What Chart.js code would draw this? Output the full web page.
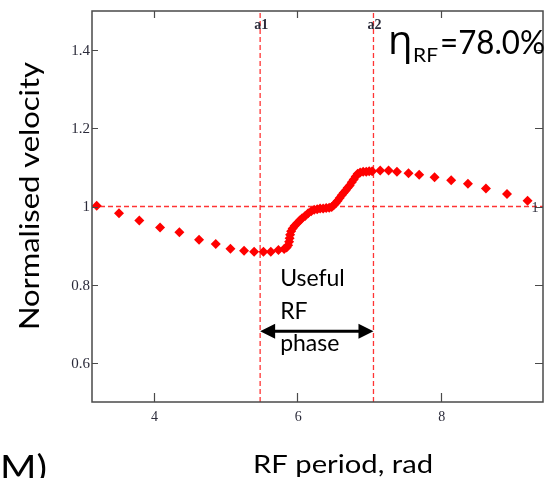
<!DOCTYPE html>
<html>
<head>
<meta charset="utf-8">
<title>Normalised velocity vs RF period</title>
<script src="https://cdn.jsdelivr.net/npm/chart.js@4"></script>
<style>
    body { margin: 0; background: #fff; }
    #chart { display: block; }
</style>
</head>
<body>
<canvas id="chart" width="550" height="478"></canvas>
<script>
// values
const phaseRad = [
    3.207, 3.518, 3.801, 4.090, 4.359, 4.633, 4.866, 5.070, 5.260, 5.400, 5.530, 5.633, 5.739,
    5.818, 5.853, 5.874, 5.888, 5.895, 5.902, 5.916, 5.937, 5.965, 6.000,
    6.035, 6.069, 6.111, 6.153, 6.195, 6.237, 6.279, 6.320, 6.362, 6.404,
    6.446, 6.481, 6.508, 6.536, 6.564, 6.592, 6.620, 6.648, 6.676, 6.704,
    6.732, 6.760, 6.787, 6.815, 6.843, 6.878, 6.920, 6.962, 7.003, 7.045,
    7.157, 7.273, 7.390, 7.551, 7.700, 7.914, 8.146, 8.379, 8.630, 8.923, 9.210
];
const normVelocity = [
    1.002, 0.983, 0.964, 0.946, 0.934, 0.915, 0.904, 0.892, 0.887, 0.884, 0.884, 0.884, 0.889,
    0.891, 0.895, 0.901, 0.910, 0.919, 0.928, 0.937, 0.944, 0.951, 0.957,
    0.964, 0.970, 0.976, 0.983, 0.988, 0.992, 0.993, 0.995, 0.995, 0.996,
    0.997, 0.999, 1.003, 1.008, 1.015, 1.022, 1.029, 1.035, 1.041, 1.048,
    1.054, 1.062, 1.069, 1.077, 1.084, 1.087, 1.089, 1.089, 1.090, 1.090,
    1.092, 1.092, 1.089, 1.085, 1.081, 1.075, 1.067, 1.058, 1.046, 1.032, 1.015
];
const xTicks = [4, 6, 8];
const yTicks = [0.6, 0.8, 1, 1.2, 1.4];
const yTickLabels = ['0.6', '0.8', '1', '1.2', '1.4'];
const xRange = [Math.PI, 3 * Math.PI];
const yRange = [0.5, 1.5];
const refLevel = 1;
const markerA1 = 5.484;
const markerA2 = 7.063;
const arrowLevel = 0.681;

const red = '#ff0000';
const dashRed = 'rgba(255,30,30,0.9)';

function fitText(ctx, text, x, y, width, font) {
    ctx.font = font;
    const w = ctx.measureText(text).width;
    ctx.save();
    ctx.translate(x, y);
    ctx.scale(width / w, 1);
    ctx.textAlign = 'left';
    ctx.fillText(text, 0, 0);
    ctx.restore();
}

const decorations = {
    id: 'decorations',
    afterDraw(chart) {
        const ctx = chart.ctx;
        const xs = chart.scales.x, ys = chart.scales.y;
        const { left, right, top, bottom } = chart.chartArea;

        ctx.save();
        // frame
        ctx.strokeStyle = '#4a4a4a';
        ctx.lineWidth = 1.5;
        ctx.strokeRect(left, top, right - left, bottom - top);

        // inward tick marks on all four sides
        ctx.lineWidth = 1.2;
        ctx.beginPath();
        xTicks.forEach(v => {
            const px = Math.round(xs.getPixelForValue(v)) + 0.5;
            ctx.moveTo(px, bottom); ctx.lineTo(px, bottom - 9);
            ctx.moveTo(px, top); ctx.lineTo(px, top + 7);
        });
        yTicks.forEach(v => {
            const py = Math.round(ys.getPixelForValue(v)) + 0.5;
            ctx.moveTo(left, py); ctx.lineTo(left + 6, py);
            ctx.moveTo(right, py); ctx.lineTo(right - 8, py);
        });
        ctx.stroke();

        // tick labels
        ctx.fillStyle = '#2b2b3a';
        ctx.font = '15px "Liberation Serif"';
        ctx.textAlign = 'right';
        ctx.textBaseline = 'middle';
        yTicks.forEach((v, i) => {
            ctx.fillText(yTickLabels[i], left - 2, ys.getPixelForValue(v) + 1);
        });
        ctx.textAlign = 'center';
        ctx.font = '14px "Liberation Serif"';
        xTicks.forEach(v => {
            ctx.fillText(String(v), xs.getPixelForValue(v) + 1, bottom + 15);
        });

        // marker names and right-hand level label
        ctx.font = 'bold 14px "Liberation Serif"';
        ctx.textBaseline = 'alphabetic';
        ctx.fillText('a1', xs.getPixelForValue(markerA1) + 1, top + 18);
        ctx.fillText('a2', xs.getPixelForValue(markerA2) + 1, top + 18);
        ctx.font = '14px "Liberation Serif"';
        ctx.textBaseline = 'middle';
        ctx.fillText('1', right - 8, ys.getPixelForValue(refLevel) + 2);

        // double headed arrow between a1 and a2
        const ax1 = xs.getPixelForValue(markerA1);
        const ax2 = xs.getPixelForValue(markerA2);
        const ay = ys.getPixelForValue(arrowLevel);
        ctx.strokeStyle = '#000';
        ctx.fillStyle = '#000';
        ctx.lineWidth = 3;
        ctx.beginPath();
        ctx.moveTo(ax1 + 10, ay); ctx.lineTo(ax2 - 10, ay);
        ctx.stroke();
        ctx.beginPath();
        ctx.moveTo(ax1, ay); ctx.lineTo(ax1 + 15, ay - 7.5); ctx.lineTo(ax1 + 15, ay + 7.5); ctx.closePath();
        ctx.moveTo(ax2, ay); ctx.lineTo(ax2 - 15, ay - 7.5); ctx.lineTo(ax2 - 15, ay + 7.5); ctx.closePath();
        ctx.fill();

        // annotation text
        ctx.fillStyle = '#000';
        ctx.textAlign = 'left';
        ctx.textBaseline = 'alphabetic';
        ctx.font = '23px Lato';
        ctx.fillText('Useful', ax1 + 20, 286);
        ctx.fillText('RF', ax1 + 20, 319);
        ctx.fillText('phase', ax1 + 20, 351);

        // efficiency label
        ctx.font = '40px "Open Sans"';
        ctx.fillText('\u03b7', 388, 54);
        fitText(ctx, 'RF', 413, 62, 25, '19px Lato');
        fitText(ctx, '=78.0%', 440, 54, 105, '33px Lato');

        // axis titles
        fitText(ctx, 'RF period, rad', 253, 473, 180, '25px Lato');
        fitText(ctx, 'M)', 0, 480, 47, '34px Lato');
        ctx.save();
        ctx.translate(39, 330);
        ctx.rotate(-Math.PI / 2);
        fitText(ctx, 'Normalised velocity', 0, 0, 268, '27px Lato');
        ctx.restore();

        ctx.restore();
    }
};

const dashStyle = {
    showLine: true,
    pointRadius: 0,
    borderColor: dashRed,
    borderWidth: 1.3,
    borderDash: [5, 3]
};

new Chart(document.getElementById('chart'), {
    type: 'scatter',
    data: {
        datasets: [
            {
                label: 'velocity',
                data: phaseRad.map((x, i) => ({ x: x, y: normVelocity[i] })),
                pointStyle: 'rectRot',
                pointRadius: 5,
                backgroundColor: red,
                borderColor: red,
                borderWidth: 0
            },
            Object.assign({ data: [{ x: xRange[0], y: refLevel }, { x: xRange[1], y: refLevel }] }, dashStyle),
            Object.assign({ data: [{ x: markerA1, y: yRange[0] }, { x: markerA1, y: yRange[1] }] }, dashStyle),
            Object.assign({ data: [{ x: markerA2, y: yRange[0] }, { x: markerA2, y: yRange[1] }] }, dashStyle)
        ]
    },
    options: {
        responsive: false,
        animation: false,
        layout: { padding: { top: 11, right: 7, left: 0, bottom: 0 }, autoPadding: false },
        plugins: {
            legend: { display: false },
            tooltip: { enabled: false }
        },
        scales: {
            x: {
                type: 'linear',
                min: xRange[0],
                max: xRange[1],
                ticks: { display: false },
                grid: { display: false },
                border: { display: false },
                afterFit: s => { s.height = 76; }
            },
            y: {
                type: 'linear',
                min: yRange[0],
                max: yRange[1],
                ticks: { display: false },
                grid: { display: false },
                border: { display: false },
                afterFit: s => { s.width = 92; }
            }
        }
    },
    plugins: [decorations]
});
</script>
</body>
</html>
